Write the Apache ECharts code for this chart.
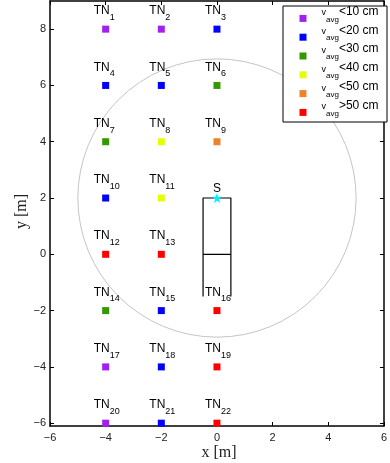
<!DOCTYPE html>
<html><head><meta charset="utf-8">
<script src="https://cdn.jsdelivr.net/npm/echarts@6/dist/echarts.min.js"></script>
<style>html,body{margin:0;padding:0;background:#fff}#c{width:390px;height:463px}</style>
</head><body><div id="c"></div>
<script>
// ---- data ----
const xTicks = [-6, -4, -2, 0, 2, 4, 6];
const yTicks = [-6, -4, -2, 0, 2, 4, 6, 8];
const nodeIds = ['1','2','3','4','5','6','7','8','9','10','11','12','13','14','15','16','17','18','19','20','21','22'];
const nodeX = [-4, -2, 0, -4, -2, 0, -4, -2, 0, -4, -2, -4, -2, -4, -2, 0, -4, -2, 0, -4, -2, 0];
const nodeY = [8, 8, 8, 6, 6, 6, 4, 4, 4, 2, 2, 0, 0, -2, -2, -2, -4, -4, -4, -6, -6, -6];
const nodeClass = [0, 0, 1, 1, 1, 2, 2, 3, 4, 1, 3, 5, 5, 2, 1, 5, 0, 1, 5, 0, 1, 5];
const classNames = ['<10 cm', '<20 cm', '<30 cm', '<40 cm', '<50 cm', '>50 cm'];
const classColors = ['#a020f0', '#0000ff', '#339900', '#e6ff00', '#ee8228', '#ff0000'];
const sinkPos = [0, 2];
const rangeCircle = [0, 2, 5];            // centre x, centre y, radius
const sinkBoxOuter = [[-0.5, -1.5], [-0.5, 2], [0.5, 2], [0.5, -1.5]];
const sinkBoxMid = [[-0.5, 0], [0.5, 0]];

const FONT = 'Liberation Sans';
const fmtMinus = v => String(v).replace('-', '\u2212');
const STAR = 'path://M0,-1 L0.2245,-0.309 L0.951,-0.309 L0.363,0.118 L0.588,0.809 L0,0.382 L-0.588,0.809 L-0.363,0.118 L-0.951,-0.309 L-0.2245,-0.309 Z';

const chart = echarts.init(document.getElementById('c'), null, {renderer: 'canvas'});

const axLine = {onZero: false, lineStyle: {color: '#000', width: 1.5}};
const axTick = {inside: true, length: 4, lineStyle: {color: '#000', width: 1}};

const nodeSeries = classNames.map((name, k) => {
  const data = [];
  for (let i = 0; i < nodeIds.length; i++) {
    if (nodeClass[i] === k) data.push([nodeX[i], nodeY[i], nodeIds[i]]);
  }
  return {
    type: 'scatter', name: name, data: data, symbol: 'rect', symbolSize: 7,
    itemStyle: {color: classColors[k], opacity: 1}, z: 5, clip: false,
    label: {
      show: true, position: [-8.5, -3.65], align: 'left', verticalAlign: 'bottom',
      formatter: p => '{a|TN}{b|' + p.data[2] + '}',
      rich: {
        a: {fontSize: 12, fontFamily: FONT, color: '#000', padding: [0, 0, 5, 0], verticalAlign: 'bottom'},
        b: {fontSize: 9, fontFamily: FONT, color: '#000', verticalAlign: 'bottom'}
      }
    },
    emphasis: {disabled: true}
  };
});

const option = {
  animation: false,
  grid: {left: 50, right: 2, top: 1, bottom: 37},
  xAxis: [
    {type: 'value', min: -6, max: 6, interval: 2, position: 'bottom', axisLine: axLine, axisTick: axTick,
     splitLine: {show: false},
     axisLabel: {formatter: fmtMinus, color: '#222', fontSize: 11, fontFamily: FONT, margin: 6}},
    {type: 'value', min: -6, max: 6, interval: 2, position: 'top', axisLine: axLine, axisTick: axTick,
     splitLine: {show: false}, axisLabel: {show: false}}
  ],
  yAxis: [
    {type: 'value', min: -6.1, max: 9, position: 'left', axisLine: axLine,
     axisTick: Object.assign({customValues: yTicks}, axTick), splitLine: {show: false},
     axisLabel: {customValues: yTicks, formatter: fmtMinus, color: '#222', fontSize: 11, fontFamily: FONT, margin: 4}},
    {type: 'value', min: -6.1, max: 9, position: 'right', axisLine: axLine,
     axisTick: Object.assign({customValues: yTicks}, axTick), splitLine: {show: false},
     axisLabel: {show: false}}
  ],
  legend: {
    orient: 'vertical', left: 299.5, top: 5.4, padding: 0, itemWidth: 7, itemHeight: 7, itemGap: 0.8,
    icon: 'rect', selectedMode: false, z: 20, data: classNames,
    formatter: name => '{v|v}{s|avg}{t|' + name + '}',
    textStyle: {
      color: '#000',
      rich: {
        v: {fontSize: 9, fontFamily: FONT, color: '#000', padding: [0, 0, 14, 10], verticalAlign: 'bottom'},
        s: {fontSize: 8, fontFamily: FONT, color: '#000', padding: [0, 0, 8, 0], verticalAlign: 'bottom'},
        t: {fontSize: 12, fontFamily: FONT, color: '#000', padding: [0, 0, 14, 0], verticalAlign: 'bottom'}
      }
    }
  },
  graphic: [
    {type: 'rect', z: 10, shape: {x: 283, y: 6, width: 104, height: 116},
     style: {fill: '#fff', stroke: '#000', lineWidth: 1}},
    {type: 'text', x: 219, y: 453, z: 10,
     style: {text: 'x [m]', font: '16px "Liberation Serif"', fill: '#222', textAlign: 'center', textVerticalAlign: 'middle'}},
    {type: 'text', x: 21.5, y: 211.5, rotation: Math.PI / 2, z: 10,
     style: {text: 'y [m]', font: '16px "Liberation Serif"', fill: '#222', textAlign: 'center', textVerticalAlign: 'middle'}}
  ],
  series: [
    {type: 'custom', coordinateSystem: 'cartesian2d', data: [rangeCircle], encode: {x: 0, y: 1}, silent: true, z: 1,
     renderItem: (params, api) => {
       const c = api.coord([api.value(0), api.value(1)]);
       const r = api.size([api.value(2), 0])[0];
       return {type: 'circle', shape: {cx: c[0], cy: c[1], r: r},
               style: {fill: null, stroke: '#c4c4c4', lineWidth: 1}};
     }},
    {type: 'line', data: sinkBoxOuter, symbol: 'none', silent: true, z: 3,
     lineStyle: {color: '#000', width: 1.2}},
    {type: 'line', data: sinkBoxMid, symbol: 'none', silent: true, z: 3,
     lineStyle: {color: '#000', width: 1.2}},
    ...nodeSeries,
    {type: 'scatter', name: 'S', data: [sinkPos], symbol: STAR, symbolSize: 10, z: 6,
     itemStyle: {color: '#00f0ff', opacity: 1}, emphasis: {disabled: true},
     label: {show: true, position: 'top', distance: -2, formatter: 'S', color: '#000', fontSize: 12, fontFamily: FONT}}
  ]
};
chart.setOption(option);
</script>
</body></html>
